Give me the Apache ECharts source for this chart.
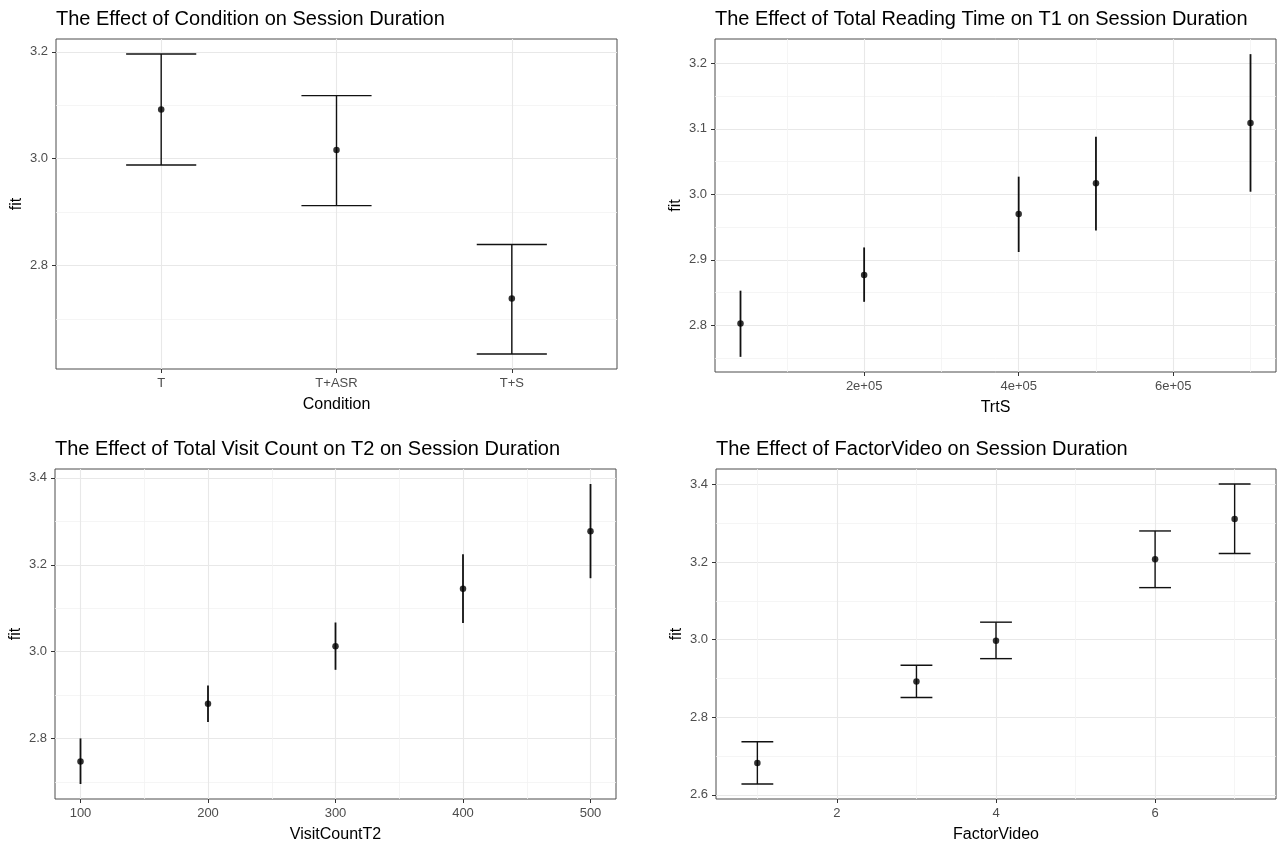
<!DOCTYPE html>
<html>
<head>
<meta charset="utf-8">
<script src="https://cdn.jsdelivr.net/npm/echarts@6/dist/echarts.min.js"></script>
<style>
html,body{margin:0;padding:0;background:#fff;}
#chart{width:1277px;height:844px;}
</style>
</head>
<body>
<div id="chart"></div>
<script>
// ---------- Data ----------
// Panel 1: Condition
var condCategories = ['T', 'T+ASR', 'T+S'];
var condFit   = [3.092, 3.016, 2.738];
var condLower = [2.988, 2.912, 2.634];
var condUpper = [3.196, 3.118, 2.839];

// Panel 2: TrtS
var trtsX     = [40000, 200000, 400000, 500000, 700000];
var trtsFit   = [2.803, 2.877, 2.970, 3.017, 3.109];
var trtsLower = [2.752, 2.836, 2.912, 2.945, 3.004];
var trtsUpper = [2.853, 2.919, 3.027, 3.088, 3.214];

// Panel 3: VisitCountT2
var visitX     = [100, 200, 300, 400, 500];
var visitFit   = [2.747, 2.880, 3.012, 3.145, 3.277];
var visitLower = [2.695, 2.838, 2.958, 3.066, 3.169];
var visitUpper = [2.800, 2.922, 3.067, 3.224, 3.386];

// Panel 4: FactorVideo
var videoX     = [1, 3, 4, 6, 7];
var videoFit   = [2.682, 2.892, 2.997, 3.207, 3.311];
var videoLower = [2.628, 2.851, 2.951, 3.134, 3.222];
var videoUpper = [2.737, 2.934, 3.045, 3.280, 3.401];

// Tick values
var condXTicks   = [1, 2, 3];
var condYMajor   = [2.8, 3.0, 3.2];
var condYMinor   = [2.7, 2.9, 3.1];
var trtsXMajor   = [200000, 400000, 600000];
var trtsXLabels  = ['2e+05', '4e+05', '6e+05'];
var trtsXMinor   = [100000, 300000, 500000, 700000];
var trtsYMajor   = [2.8, 2.9, 3.0, 3.1, 3.2];
var trtsYMinor   = [2.75, 2.85, 2.95, 3.05, 3.15];
var visitXMajor  = [100, 200, 300, 400, 500];
var visitXMinor  = [150, 250, 350, 450];
var visitYMajor  = [2.8, 3.0, 3.2, 3.4];
var visitYMinor  = [2.7, 2.9, 3.1, 3.3];
var videoXMajor  = [2, 4, 6];
var videoXMinor  = [1, 3, 5, 7];
var videoYMajor  = [2.6, 2.8, 3.0, 3.2, 3.4];
var videoYMinor  = [2.7, 2.9, 3.1, 3.3];

var titles = [
  'The Effect of Condition on Session Duration',
  'The Effect of Total Reading Time on T1 on Session Duration',
  'The Effect of Total Visit Count on T2 on Session Duration',
  'The Effect of FactorVideo on Session Duration'
];
var xNames = ['Condition', 'TrtS', 'VisitCountT2', 'FactorVideo'];

// ---------- Helpers ----------
var FONT = '"Liberation Sans", Arial, sans-serif';
function expandRange(lo, hi, mult) {
  var mn = Math.min.apply(null, lo), mx = Math.max.apply(null, hi);
  var d = (mx - mn) * mult;
  return [mn - d, mx + d];
}
function zip3(x, a, b) { return x.map(function (v, i) { return [v, a[i], b[i]]; }); }
function zip2(x, a) { return x.map(function (v, i) { return [v, a[i]]; }); }

var grids = [
  {left: 56,  top: 39,  width: 561, height: 330},
  {left: 715, top: 39,  width: 561, height: 333},
  {left: 55,  top: 469, width: 561, height: 333},
  {left: 716, top: 469, width: 560, height: 333}
];

var condXIdx = condCategories.map(function (c, i) { return i + 1; });
var ranges = [
  {x: [0.4, 3.6], y: expandRange(condLower, condUpper, 0.05)},
  {x: expandRange(trtsX, trtsX, 0.05), y: expandRange(trtsLower, trtsUpper, 0.05)},
  {x: expandRange(visitX, visitX, 0.05), y: expandRange(visitLower, visitUpper, 0.05)},
  {x: expandRange(videoX.map(function(v){return v-0.2;}), videoX.map(function(v){return v+0.2;}), 0.05), y: expandRange(videoLower, videoUpper, 0.05)}
];

var xMajor = [condXTicks, trtsXMajor, visitXMajor, videoXMajor];
var xMinor = [null, trtsXMinor, visitXMinor, videoXMinor];
var yMajor = [condYMajor, trtsYMajor, visitYMajor, videoYMajor];
var yMinor = [condYMinor, trtsYMinor, visitYMinor, videoYMinor];
var xFormat = [
  function (v) { return condCategories[Math.round(v) - 1]; },
  function (v) { var i = trtsXMajor.indexOf(v); return i >= 0 ? trtsXLabels[i] : ''; },
  function (v) { return String(v); },
  function (v) { return String(v); }
];

var xAxes = [], yAxes = [], series = [], titleOpts = [];
var MAJOR = '#e8e8e8', MINOR = '#f3f3f3';

for (var g = 0; g < 4; g++) {
  var xr = ranges[g].x, yr = ranges[g].y;
  titleOpts.push({
    text: titles[g], left: grids[g].left, top: grids[g].top - 30, padding: 0,
    textStyle: {fontFamily: FONT, fontSize: 20, fontWeight: 'normal', color: '#000'}
  });
  xAxes.push({
    type: 'value', gridIndex: g, min: xr[0], max: xr[1], position: 'bottom',
    name: xNames[g], nameLocation: 'middle', nameGap: 28,
    nameTextStyle: {fontFamily: FONT, fontSize: 16, color: '#000'},
    axisLine: {show: false},
    axisTick: {show: true, inside: false, length: 4, customValues: xMajor[g], lineStyle: {color: '#333', width: 1}},
    axisLabel: {show: true, customValues: xMajor[g], margin: 8, formatter: xFormat[g], fontFamily: FONT, fontSize: 13, color: '#4d4d4d'},
    splitLine: {show: true, lineStyle: {color: MAJOR, width: 1.1}}
  });
  if (xMinor[g]) {
    xAxes.push({
      type: 'value', gridIndex: g, min: xr[0], max: xr[1], position: 'bottom',
      axisLine: {show: false}, axisTick: {show: false, customValues: xMinor[g]},
      axisLabel: {show: false, customValues: xMinor[g]},
      splitLine: {show: true, lineStyle: {color: MINOR, width: 0.8}}
    });
  }
  yAxes.push({
    type: 'value', gridIndex: g, min: yr[0], max: yr[1], position: 'left',
    name: 'fit', nameLocation: 'middle', nameGap: 31, nameRotate: 90,
    nameTextStyle: {fontFamily: FONT, fontSize: 16, color: '#000'},
    axisLine: {show: false},
    axisTick: {show: true, inside: false, length: 4, customValues: yMajor[g], lineStyle: {color: '#333', width: 1}},
    axisLabel: {show: true, customValues: yMajor[g], margin: 8, formatter: function (v) { return v.toFixed(1); }, fontFamily: FONT, fontSize: 13, color: '#4d4d4d'},
    splitLine: {show: true, lineStyle: {color: MAJOR, width: 1.1}}
  });
  yAxes.push({
    type: 'value', gridIndex: g, min: yr[0], max: yr[1], position: 'left',
    axisLine: {show: false}, axisTick: {show: false, customValues: yMinor[g]},
    axisLabel: {show: false, customValues: yMinor[g]},
    splitLine: {show: true, lineStyle: {color: MINOR, width: 0.8}}
  });
}

var xIdx = [], yIdx = [], xi = 0, yi = 0;
for (var g2 = 0; g2 < 4; g2++) {
  xIdx.push(xi); xi += xMinor[g2] ? 2 : 1;
  yIdx.push(yi); yi += 2;
}

var panelData = [
  {x: condXIdx, fit: condFit, lo: condLower, hi: condUpper, cap: 0.2},
  {x: trtsX, fit: trtsFit, lo: trtsLower, hi: trtsUpper, cap: 0},
  {x: visitX, fit: visitFit, lo: visitLower, hi: visitUpper, cap: 0},
  {x: videoX, fit: videoFit, lo: videoLower, hi: videoUpper, cap: 0.2}
];

function makeRender(cap, lw) {
  return function (params, api) {
    var x = api.value(0), lo = api.value(1), hi = api.value(2);
    var pLo = api.coord([x, lo]), pHi = api.coord([x, hi]);
    var style = {stroke: '#111', lineWidth: lw, fill: null};
    var children = [{type: 'line', shape: {x1: pLo[0], y1: pLo[1], x2: pHi[0], y2: pHi[1]}, style: style}];
    if (cap > 0) {
      var a = api.coord([x - cap, hi]), b = api.coord([x + cap, hi]);
      var c = api.coord([x - cap, lo]), d = api.coord([x + cap, lo]);
      children.push({type: 'line', shape: {x1: a[0], y1: a[1], x2: b[0], y2: b[1]}, style: style});
      children.push({type: 'line', shape: {x1: c[0], y1: c[1], x2: d[0], y2: d[1]}, style: style});
    }
    return {type: 'group', children: children};
  };
}

for (var p = 0; p < 4; p++) {
  var pd = panelData[p];
  series.push({
    type: 'custom', xAxisIndex: xIdx[p], yAxisIndex: yIdx[p],
    renderItem: makeRender(pd.cap, pd.cap > 0 ? 1.4 : 1.8),
    encode: {x: 0, y: [1, 2]},
    data: zip3(pd.x, pd.lo, pd.hi), z: 3, silent: true
  });
  series.push({
    type: 'scatter', xAxisIndex: xIdx[p], yAxisIndex: yIdx[p],
    symbol: 'circle', symbolSize: 6.5,
    itemStyle: {color: '#000'},
    data: zip2(pd.x, pd.fit), z: 4, silent: true
  });
}

var chart = echarts.init(document.getElementById('chart'), null, {renderer: 'canvas'});
chart.setOption({
  animation: false,
  backgroundColor: '#fff',
  title: titleOpts,
  grid: grids.map(function (gr) {
    return {left: gr.left, top: gr.top, width: gr.width, height: gr.height, show: true, borderColor: '#4d4d4d', borderWidth: 1, backgroundColor: 'transparent', containLabel: false};
  }),
  xAxis: xAxes,
  yAxis: yAxes,
  series: series
});
</script>
</body>
</html>
